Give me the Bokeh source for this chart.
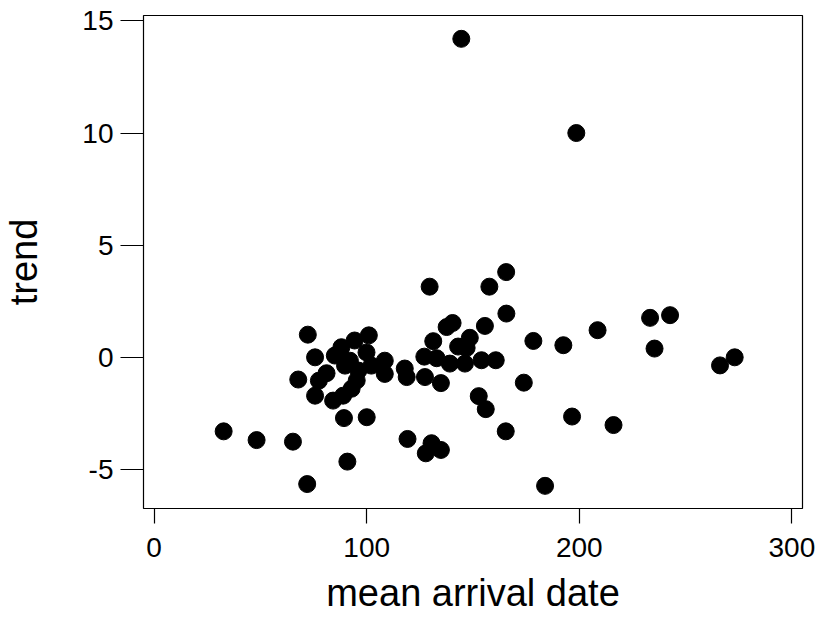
from bokeh.plotting import figure
from bokeh.models import FixedTicker, Range1d, ColumnDataSource, CustomJSTickFormatter
from bokeh.embed import file_html
from bokeh.resources import INLINE

mean_arrival_date = [
    144.5, 198.6, 165.6, 129.6, 157.7, 165.7, 155.6, 140.4, 137.6, 131.3,
    148.5, 143.0, 147.0, 127.1, 132.9, 139.1, 146.2, 154.0, 160.7, 127.4,
    118.8, 134.9, 173.9, 178.4, 192.5, 208.6, 233.3, 242.7, 235.4, 152.7,
    156.0, 196.6, 216.1, 165.4, 119.2, 130.5, 127.8, 134.9, 183.9, 266.2,
    273.1, 72.3, 75.7, 67.8, 75.7, 81.1, 77.5, 84.2, 88.9, 88.1,
    85.0, 94.3, 101.0, 99.9, 92.1, 89.8, 96.1, 95.3, 92.9, 102.2,
    108.5, 108.5, 117.9, 89.3, 100.0, 90.9, 72.0, 32.7, 48.2, 65.3,
]
trend = [
    14.2, 10.0, 3.8, 3.15, 3.15, 1.95, 1.4, 1.53, 1.35, 0.72,
    0.87, 0.48, 0.42, 0.03, -0.04, -0.28, -0.28, -0.13, -0.13, -0.88,
    -0.88, -1.15, -1.13, 0.73, 0.54, 1.21, 1.76, 1.88, 0.39, -1.73,
    -2.31, -2.64, -3.02, -3.30, -3.64, -3.83, -4.28, -4.13, -5.73, -0.36,
    0.0, 1.01, 0.0, -0.99, -1.71, -0.71, -1.04, -1.93, -1.71, 0.45,
    0.08, 0.75, 0.98, 0.22, -0.15, -0.37, -0.59, -1.03, -1.40, -0.37,
    -0.15, -0.74, -0.5, -2.71, -2.67, -4.65, -5.65, -3.30, -3.69, -3.76,
]
x_ticks = [0, 100, 200, 300]
y_ticks = [-5, 0, 5, 10, 15]

src = ColumnDataSource(dict(x=mean_arrival_date, y=trend))

p = figure(width=816, height=617, output_backend="svg", toolbar_location=None,
           x_range=Range1d(-5.0, 305.0), y_range=Range1d(-6.74, 15.24),
           min_border_left=142, min_border_right=14, min_border_top=15,
           min_border_bottom=109)
p.scatter("x", "y", source=src, size=17, fill_color="black", line_color="black")

p.grid.visible = False
p.outline_line_color = "black"
p.outline_line_width = 1.2
p.background_fill_color = "white"
p.border_fill_color = "white"

font = "Liberation Sans"
for ax in (p.xaxis[0], p.yaxis[0]):
    ax.axis_line_color = None
    ax.minor_tick_line_color = None
    ax.major_tick_in = 0
    ax.major_tick_line_color = "black"
    ax.major_tick_line_width = 1.2
    ax.major_label_text_font = font
    ax.major_label_text_font_size = "28px"
    ax.major_label_text_color = "black"
    ax.axis_label_text_font = font
    ax.axis_label_text_font_size = "38px"
    ax.axis_label_text_font_style = "normal"
    ax.axis_label_text_color = "black"
    ax.formatter = CustomJSTickFormatter(code="return tick.toString();")

p.xaxis.ticker = FixedTicker(ticks=x_ticks)
p.yaxis.ticker = FixedTicker(ticks=y_ticks)
p.xaxis.major_tick_out = 15
p.yaxis.major_tick_out = 23
p.xaxis.major_label_standoff = 14
p.yaxis.major_label_standoff = 7
p.xaxis.axis_label = "mean arrival date"
p.yaxis.axis_label = "trend"
p.xaxis.axis_label_standoff = 12
p.yaxis.axis_label_standoff = 34

open("out.html", "w").write(file_html(p, INLINE))
